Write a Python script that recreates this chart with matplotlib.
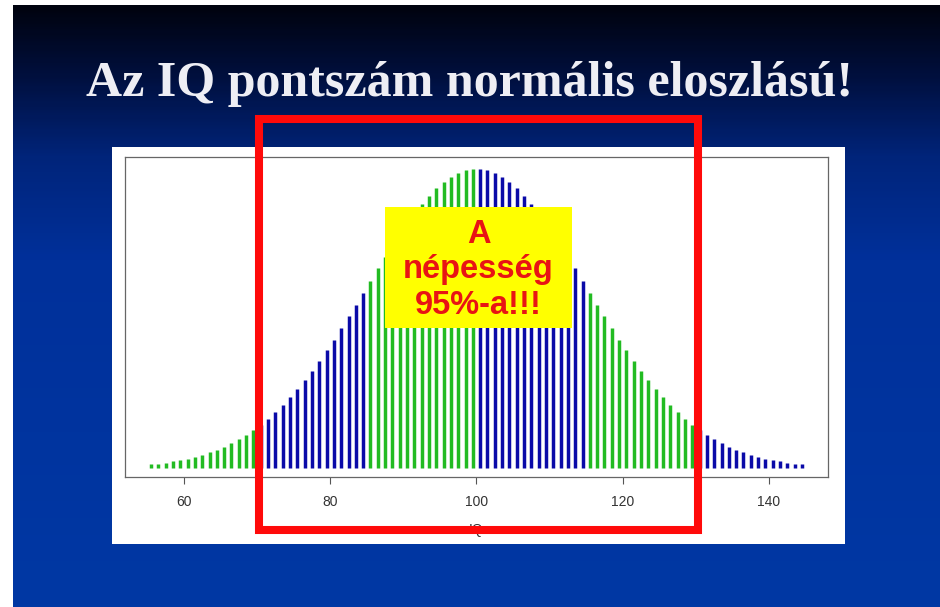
import matplotlib
matplotlib.use("Agg")
import matplotlib.pyplot as plt
import numpy as np
from matplotlib.patches import Rectangle
from matplotlib.colors import LinearSegmentedColormap

# ---- data ----
iq_values = [55.5 + i for i in range(90)]
# bar heights (density x 1000), left half 55.5..99.5
left_heights = [0.33, 0.40, 0.48, 0.58, 0.69, 0.83, 0.99, 1.17, 1.38, 1.62,
                1.89, 2.20, 2.54, 2.93, 3.37, 3.85, 4.37, 4.95, 5.59, 6.27,
                7.01, 7.80, 8.63, 9.52, 10.45, 11.42, 12.43, 13.47, 14.52, 15.59,
                16.67, 17.74, 18.79, 19.82, 20.82, 21.76, 22.65, 23.47, 24.21, 24.87,
                25.43, 25.88, 26.23, 26.46, 26.58]
right_heights = [26.58, 26.46, 26.23, 25.88, 25.43, 24.87, 24.21, 23.47, 22.65, 21.76,
                 20.82, 19.82, 18.79, 17.74, 16.67, 15.59, 14.52, 13.47, 12.43, 11.42,
                 10.45, 9.52, 8.63, 7.80, 7.01, 6.27, 5.59, 4.95, 4.37, 3.85,
                 3.37, 2.93, 2.54, 2.20, 1.89, 1.62, 1.38, 1.17, 0.99, 0.83,
                 0.69, 0.58, 0.48, 0.40, 0.33]
heights = left_heights + right_heights
band_colors = ["#22bb22", "#0a0aa8", "#22bb22", "#0a0aa8", "#22bb22", "#0a0aa8"]
bar_colors = [band_colors[i // 15] for i in range(90)]
x_ticks = [60, 80, 100, 120, 140]
title = "Az IQ pontszám normális eloszlású!"
box_lines = ["A", "népesség", "95%-a!!!"]

W, H = 940, 607
fig = plt.figure(figsize=(W / 100, H / 100), dpi=100)
fig.patch.set_facecolor("white")

# background gradient
bg = fig.add_axes([13 / W, 0, 1 - 13 / W, 1 - 5 / H])
bg.set_axis_off()
cmap = LinearSegmentedColormap.from_list(
    "slide", [(0.0, "#00030f"), (0.12, "#001040"), (0.25, "#00247a"),
              (0.42, "#00309a"), (1.0, "#0038a4")])
grad = np.linspace(0, 1, 300).reshape(-1, 1)
bg.imshow(grad, aspect="auto", cmap=cmap, extent=[0, 1, 1, 0])
bg.set_xlim(0, 1)
bg.set_ylim(1, 0)

def fx(px):
    return px / W

def fy(py):
    return 1 - py / H

# white panel
fig.patches.append(Rectangle((fx(112), fy(544)), fx(845) - fx(112), fy(147) - fy(544),
                             transform=fig.transFigure, facecolor="white",
                             edgecolor="none", zorder=1))

# plot axes
ax = fig.add_axes([fx(125), fy(477), fx(828) - fx(125), fy(157) - fy(477)])
ax.set_zorder(2)
ax.set_facecolor("white")
ax.vlines(iq_values, 0, heights, colors=bar_colors, linewidth=2.5)
ax.set_xlim(51.94, 148.06)
ax.set_ylim(-0.8, 27.65)
ax.set_yticks([])
ax.set_xticks(x_ticks)
ax.set_xticklabels([str(t) for t in x_ticks], fontsize=10, color="#333333",
                   family="Liberation Sans")
ax.tick_params(axis="x", length=5, color="#555555", pad=8)
for s in ax.spines.values():
    s.set_color("#666666")
    s.set_linewidth(0.9)
ax.set_xlabel("IQ", fontsize=10, color="#333333", labelpad=10, family="Liberation Sans")

# title
fig.text(0.5, fy(84), title, ha="center", va="center", color="#eeeef4",
         fontsize=36, family="Liberation Serif", fontweight="bold", zorder=5)

# yellow box
fig.patches.append(Rectangle((fx(385), fy(328)), fx(572) - fx(385), fy(207) - fy(328),
                             transform=fig.transFigure, facecolor="#ffff00",
                             edgecolor="none", zorder=6))
for line, py in zip(box_lines, [234, 270, 305]):
    fig.text(fx(478.5), fy(py), line, ha="center", va="center", color="#e81414",
             fontsize=23.5, family="Liberation Sans", fontweight="bold", zorder=7)

# red rectangle
fig.patches.append(Rectangle((fx(259), fy(530)), fx(698) - fx(259), fy(119) - fy(530),
                             transform=fig.transFigure, facecolor="none",
                             edgecolor="#ff0a0a", linewidth=5.8, zorder=8))

fig.savefig("out.png", dpi=100)
